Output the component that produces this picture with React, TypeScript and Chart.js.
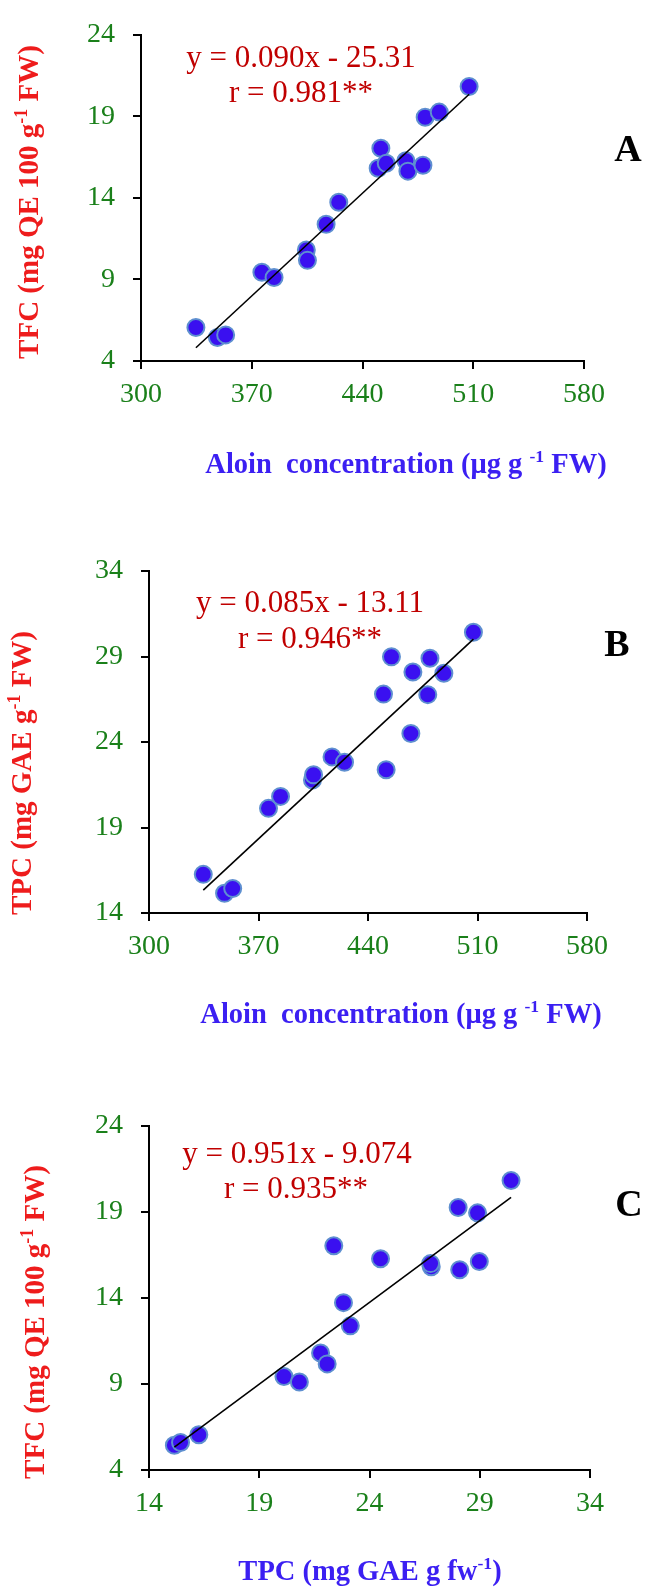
import React, { useEffect, useRef } from 'react';
import { Chart, registerables } from 'chart.js';

Chart.register(...registerables);

// ---- data (18 samples) ----
const aloin = [334.7, 348.3, 353.5, 376.4, 384.1, 404.5, 405.2, 417.0, 425.0, 449.9, 451.6, 455.0, 467.4, 468.7, 478.2, 479.6, 488.5, 507.4];
const tfc = [6.05, 5.44, 5.6, 9.44, 9.12, 10.8, 10.17, 12.38, 13.73, 15.82, 17.04, 16.12, 16.28, 15.64, 16.0, 18.95, 19.26, 20.83];
const tpc = [16.26, 15.15, 15.43, 20.12, 20.82, 21.78, 22.08, 23.13, 22.82, 26.8, 22.38, 28.98, 24.5, 28.09, 26.77, 28.9, 28.02, 30.42];

// ---- tick labels ----
const aloinTicks = [300, 370, 440, 510, 580];
const tfcTicks = [4, 9, 14, 19, 24];
const tpcTicks = [14, 19, 24, 29, 34];

// ---- regression equations shown on the chart ----
const fitA = { slope: 0.090, intercept: -25.31, eq: 'y = 0.090x - 25.31', r: 'r = 0.981**' };
const fitB = { slope: 0.085, intercept: -13.11, eq: 'y = 0.085x - 13.11', r: 'r = 0.946**' };
const fitC = { slope: 0.951, intercept: -9.074, eq: 'y = 0.951x - 9.074', r: 'r = 0.935**' };

type Run = { t: string; sup?: boolean };
const xTitleAloin: Run[] = [{ t: 'Aloin  concentration (μg g ' }, { t: '-1', sup: true }, { t: ' FW)' }];
const yTitleTFC: Run[] = [{ t: 'TFC (mg QE 100 g' }, { t: '-1', sup: true }, { t: ' FW)' }];
const yTitleTPC: Run[] = [{ t: 'TPC (mg GAE g' }, { t: '-1', sup: true }, { t: ' FW)' }];
const xTitleTPC: Run[] = [{ t: 'TPC (mg GAE g fw' }, { t: '-1', sup: true }, { t: ')' }];

const W = 646;
const SERIF = "'Liberation Serif', 'Times New Roman', serif";
const GREEN = '#1a801a';
const BLUE_T = '#3b1ff2';
const RED_T = '#ee1c1c';
const EQ = '#c00000';
const PT_FILL = '#3a10f0';
const PT_EDGE = '#5e8fd0';
const XAXIS_H = 60;

function font(size: number, bold: boolean) {
  return `${bold ? 'bold ' : ''}${size}px ${SERIF}`;
}

function drawRich(ctx: CanvasRenderingContext2D, runs: Run[], cx: number, base: number, size: number, bold: boolean, color: string, rotate: boolean) {
  ctx.save();
  ctx.fillStyle = color;
  ctx.textBaseline = 'alphabetic';
  ctx.textAlign = 'left';
  const supSize = size * 0.62;
  let total = 0;
  const widths = runs.map((r) => {
    ctx.font = font(r.sup ? supSize : size, bold);
    const w = ctx.measureText(r.t).width;
    total += w;
    return w;
  });
  if (rotate) {
    ctx.translate(base, cx);
    ctx.rotate(-Math.PI / 2);
    cx = 0;
    base = 0;
  }
  let x = cx - total / 2;
  runs.forEach((r, i) => {
    ctx.font = font(r.sup ? supSize : size, bold);
    ctx.fillText(r.t, x, r.sup ? base - size * 0.38 : base);
    x += widths[i];
  });
  ctx.restore();
}

type PanelCfg = {
  top: number;
  h: number;
  xs: number[];
  ys: number[];
  xTicks: number[];
  yTicks: number[];
  fit: { slope: number; intercept: number; eq: string; r: string };
  area: { left: number; right: number; top: number; bottom: number };
  eq1: [number, number];
  eq2: [number, number];
  letter: string;
  letterPos: [number, number];
  xTitle: Run[];
  xTitlePos: [number, number];
  yTitle: Run[];
  yTitlePos: [number, number]; // [centerY, baselineX]
};

const panels: PanelCfg[] = [
  {
    top: 0, h: 530, xs: aloin, ys: tfc, xTicks: aloinTicks, yTicks: tfcTicks, fit: fitA,
    area: { left: 141, right: 584, top: 22, bottom: 361 },
    eq1: [301, 67], eq2: [301, 102], letter: 'A', letterPos: [628, 161],
    xTitle: xTitleAloin, xTitlePos: [406, 473], yTitle: yTitleTFC, yTitlePos: [202, 38],
  },
  {
    top: 530, h: 530, xs: aloin, ys: tpc, xTicks: aloinTicks, yTicks: tpcTicks, fit: fitB,
    area: { left: 149, right: 587, top: 41, bottom: 383 },
    eq1: [310, 82], eq2: [310, 118], letter: 'B', letterPos: [617, 126],
    xTitle: xTitleAloin, xTitlePos: [401, 493], yTitle: yTitleTPC, yTitlePos: [243, 31],
  },
  {
    top: 1060, h: 528, xs: tpc, ys: tfc, xTicks: tpcTicks, yTicks: tfcTicks, fit: fitC,
    area: { left: 149, right: 590, top: 66, bottom: 410 },
    eq1: [297, 103], eq2: [296, 138], letter: 'C', letterPos: [629, 156],
    xTitle: xTitleTPC, xTitlePos: [370, 520], yTitle: yTitleTFC, yTitlePos: [262, 44],
  },
];

function Panel({ cfg }: { cfg: PanelCfg }) {
  const ref = useRef<HTMLCanvasElement>(null);
  useEffect(() => {
    const canvas = ref.current;
    if (!canvas) return;
    const pts = cfg.xs.map((x, i) => ({ x, y: cfg.ys[i] }));
    const xmin = Math.min(...cfg.xs);
    const xmax = Math.max(...cfg.xs);
    const trend = [
      { x: xmin, y: cfg.fit.slope * xmin + cfg.fit.intercept },
      { x: xmax, y: cfg.fit.slope * xmax + cfg.fit.intercept },
    ];
    const textPlugin = {
      id: 'panelText',
      afterDraw(chart: any) {
        const ctx: CanvasRenderingContext2D = chart.ctx;
        drawRich(ctx, [{ t: cfg.fit.eq }], cfg.eq1[0], cfg.eq1[1], 31, false, EQ, false);
        drawRich(ctx, [{ t: cfg.fit.r }], cfg.eq2[0], cfg.eq2[1], 31, false, EQ, false);
        drawRich(ctx, [{ t: cfg.letter }], cfg.letterPos[0], cfg.letterPos[1], 38, true, '#000', false);
        drawRich(ctx, cfg.xTitle, cfg.xTitlePos[0], cfg.xTitlePos[1], 28.5, true, BLUE_T, false);
        drawRich(ctx, cfg.yTitle, cfg.yTitlePos[0], cfg.yTitlePos[1], 29, true, RED_T, true);
      },
    };
    const gridOpts = { drawOnChartArea: false, drawTicks: true, tickLength: 8, color: '#000', lineWidth: 2 };
    const borderOpts = { display: true, color: '#000', width: 2 };
    const chart = new Chart(canvas, {
      type: 'scatter',
      data: {
        datasets: [
          { data: trend, showLine: true, borderColor: '#000', borderWidth: 1.6, pointRadius: 0, order: 0 } as any,
          { data: pts, pointRadius: 8.5, pointHoverRadius: 8.5, borderWidth: 2, backgroundColor: PT_FILL, borderColor: PT_EDGE, order: 1 } as any,
        ],
      },
      options: {
        responsive: false,
        animation: false,
        devicePixelRatio: 1,
        events: [],
        layout: {
          padding: { left: 0, top: cfg.area.top, right: W - cfg.area.right, bottom: cfg.h - cfg.area.bottom - XAXIS_H },
        },
        plugins: { legend: { display: false }, tooltip: { enabled: false } },
        scales: {
          x: {
            type: 'linear',
            min: cfg.xTicks[0],
            max: cfg.xTicks[cfg.xTicks.length - 1],
            afterBuildTicks: (s: any) => { s.ticks = cfg.xTicks.map((v) => ({ value: v })); },
            afterFit: (s: any) => { s.height = XAXIS_H; },
            grid: gridOpts,
            border: borderOpts,
            ticks: { color: GREEN, font: { family: SERIF, size: 28 }, padding: 9, maxRotation: 0, autoSkip: false },
          },
          y: {
            type: 'linear',
            min: cfg.yTicks[0],
            max: cfg.yTicks[cfg.yTicks.length - 1],
            afterBuildTicks: (s: any) => { s.ticks = cfg.yTicks.map((v) => ({ value: v })); },
            afterFit: (s: any) => { s.width = cfg.area.left; },
            grid: gridOpts,
            border: borderOpts,
            ticks: { color: GREEN, font: { family: SERIF, size: 28 }, padding: 18, autoSkip: false },
          },
        },
      } as any,
      plugins: [textPlugin],
    });
    return () => chart.destroy();
  }, [cfg]);
  return (
    <canvas
      ref={ref}
      width={W}
      height={cfg.h}
      style={{ position: 'absolute', left: 0, top: cfg.top, width: W, height: cfg.h, display: 'block' }}
    />
  );
}

export default function App() {
  return (
    <div style={{ position: 'absolute', left: 0, top: 0, width: W, height: 1588, background: '#fff' }}>
      {panels.map((p) => (
        <Panel key={p.letter} cfg={p} />
      ))}
    </div>
  );
}
